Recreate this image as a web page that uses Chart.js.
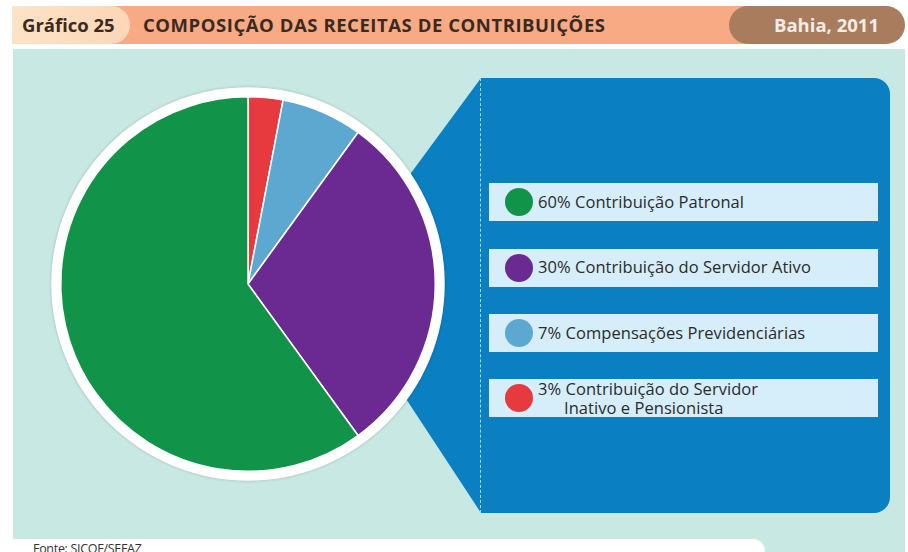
<!DOCTYPE html>
<html lang="pt">
<head>
<meta charset="utf-8">
<script src="https://cdn.jsdelivr.net/npm/chart.js@4"></script>
<style>
  html, body { margin:0; padding:0; }
  body { width:908px; height:552px; overflow:hidden; position:relative; background:#ffffff; font-family:"Open Sans", "Noto Sans", sans-serif; }
  .abs { position:absolute; }
  #bar { left:12px; top:6px; width:740px; height:38px; background:#f8aa85; }
  #pill { left:12px; top:6px; width:118px; height:38px; background:linear-gradient(90deg,#fde3c6,#fcd6b8); border-radius:0 19px 19px 0; }
  #tab { left:729px; top:6px; width:176px; height:38px; background:#a87c5d; border-radius:19px 19px 19px 19px; }
  .htxt { top:6px; height:38px; line-height:38px; font-weight:700; font-size:18.5px; white-space:nowrap; }
  #hnum { left:22px; color:#3a2a1f; }
  #htitle { left:143px; color:#3a2a1f; font-size:18.5px; letter-spacing:0.55px; }
  #hplace { left:774px; color:#f4ece6; }
  #mint { left:13px; top:49px; width:892px; height:510px; background:#c8e8e3; }
  #tri { left:0; top:0; }
  #panel { left:480px; top:78px; width:410px; height:435px; background:#0a7fc1; border-radius:0 16px 16px 0; }
  #dash { left:480px; top:78px; width:0; height:435px; border-left:1.5px dashed #a9d6ef; }
  .box { position:absolute; left:489px; width:389px; height:38px; background:#d5eefa; }
  .dot { position:absolute; left:505px; width:28px; height:28px; border-radius:50%; }
  .ltxt { position:absolute; left:538px; font-size:16.5px; color:#2b2b2b; white-space:pre; line-height:18.5px; letter-spacing:0.05px; }
  #foot { left:13px; top:539px; width:752px; height:20px; background:#ffffff; border-radius:0 12px 0 0; }
  #ftxt { left:33px; top:540px; font-size:12.5px; color:#333; letter-spacing:-0.3px; }
  #pieWrap { left:48px; top:84px; width:400px; height:400px; }
</style>
</head>
<body>
<div class="abs" id="bar"></div>
<div class="abs" id="pill"></div>
<div class="abs" id="tab"></div>
<div class="abs htxt" id="hnum">Gráfico 25</div>
<div class="abs htxt" id="htitle">COMPOSIÇÃO DAS RECEITAS DE CONTRIBUIÇÕES</div>
<div class="abs htxt" id="hplace">Bahia, 2011</div>
<div class="abs" id="mint"></div>
<svg class="abs" id="tri" width="908" height="552"><polygon points="481,78 481,513 330,283" fill="#0a7fc1"/></svg>
<div class="abs" id="panel"></div>
<div class="abs" id="dash"></div>
<div id="legend"></div>
<div class="abs" id="foot"></div>
<div class="abs" id="ftxt">Fonte: SICOF/SEFAZ</div>
<div class="abs" id="pieWrap"><canvas id="pie" width="400" height="400"></canvas></div>
<script>
// ---- data ----
const categories = [
  'Contribuição Patronal',
  'Contribuição do Servidor Ativo',
  'Compensações Previdenciárias',
  'Contribuição do Servidor\nInativo e Pensionista'
];
const shares = [60, 30, 7, 3];
const sliceColors = ['#12934a', '#6a2a91', '#5da8d1', '#e63a3f'];

// ---- legend (HTML) ----
const legend = document.getElementById('legend');
const boxTops = [183, 248.5, 314, 379];
categories.forEach((cat, i) => {
  const top = boxTops[i];
  const box = document.createElement('div');
  box.className = 'box';
  box.style.top = top + 'px';
  legend.appendChild(box);
  const dot = document.createElement('div');
  dot.className = 'dot';
  dot.style.top = (top + 5) + 'px';
  dot.style.background = sliceColors[i];
  legend.appendChild(dot);
  const lines = cat.split('\n');
  const txt = document.createElement('div');
  txt.className = 'ltxt';
  txt.textContent = shares[i] + '% ' + lines[0] + (lines.length > 1 ? '\n      ' + lines.slice(1).join('\n') : '');
  txt.style.top = (lines.length > 1 ? top + 1 : top + 9.5) + 'px';
  legend.appendChild(txt);
});

// ---- pie (Chart.js) ----
const ringPlugin = {
  id: 'ring',
  beforeDatasetsDraw(chart) {
    const arc = chart.getDatasetMeta(0).data[0];
    if (!arc) return;
    const ctx = chart.ctx;
    ctx.save();
    ctx.beginPath();
    ctx.arc(arc.x, arc.y, arc.outerRadius + 9.5, 0, Math.PI * 2);
    ctx.fillStyle = '#ffffff';
    ctx.shadowColor = 'rgba(0,0,0,0.22)';
    ctx.shadowBlur = 3;
    ctx.fill();
    ctx.restore();
  }
};
const pieLabels = categories.map(c => c.replace('\n', ' ')).slice().reverse();
const pieValues = shares.slice().reverse();
const pieColors = sliceColors.slice().reverse();
new Chart(document.getElementById('pie'), {
  type: 'pie',
  data: {
    labels: pieLabels,
    datasets: [{
      data: pieValues,
      backgroundColor: pieColors,
      borderColor: '#ffffff',
      borderWidth: 1.5
    }]
  },
  options: {
    responsive: false,
    animation: false,
    rotation: 0,
    layout: { padding: 12 },
    plugins: { legend: { display: false }, tooltip: { enabled: false } }
  },
  plugins: [ringPlugin]
});
</script>
</body>
</html>
